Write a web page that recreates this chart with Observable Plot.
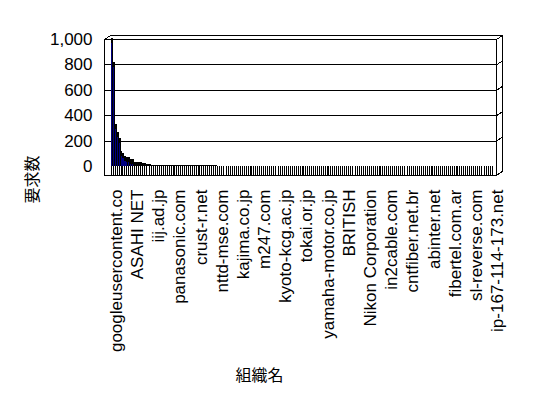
<!DOCTYPE html>
<html><head><meta charset="utf-8">
<script src="https://cdn.jsdelivr.net/npm/d3@7"></script>
<script src="https://cdn.jsdelivr.net/npm/@observablehq/plot@0.6"></script>
<style>body{margin:0;background:#fff}</style>
</head><body><div id="chart"></div>
<script>
// Labelled organisations (every 11th bar carries a label)
const labelledOrgs = [
  "googleusercontent.co", "ASAHI NET", "iij.ad.jp", "panasonic.com", "crust-r.net",
  "nttd-mse.com", "kajima.co.jp", "m247.com", "kyoto-kcg.ac.jp", "tokai.or.jp",
  "yamaha-motor.co.jp", "BRITISH", "Nikon Corporation", "in2cable.com", "cntfiber.net.br",
  "abinter.net", "fibertel.com.ar", "sl-reverse.com", "ip-167-114-173.net"
];
const labelStep = 11;

// Request counts per organisation (199 bars)
const counts = [
  1005, 815, 330, 268, 222, 120, 100, 75, 74, 72, 55, 53, 32, 31, 30, 29, 21, 20, 13, 12, 12,
  9, 9, 9, 9, 9, 8, 8, 8, 8, 8, 8, 8, 8, 8, 7, 7, 7, 7, 7, 7, 7, 7, 7, 7, 6, 6, 6, 6, 6, 6, 6, 6, 6, 6,
  2, 2, 2, 2, 2, 2, 2, 2, 2, 2, 2, 2, 2, 2, 2, 2, 2, 2, 2, 2, 2, 2, 2, 2, 2, 2, 2, 2, 2, 2,
  2, 2, 2, 2, 2, 2, 2, 2, 2, 2, 2, 2, 2, 2, 2, 2, 2, 2, 2, 2, 2, 2, 2, 2, 2, 2, 2, 2, 2, 2,
  1, 1, 1, 1, 1, 1, 1, 1, 1, 1, 1, 1, 1, 1, 1, 1, 1, 1, 1, 1, 1, 1, 1, 1, 1, 1, 1, 1,
  1, 1, 1, 1, 1, 1, 1, 1, 1, 1, 1, 1, 1, 1, 1, 1, 1, 1, 1, 1, 1, 1, 1, 1, 1, 1, 1, 1,
  1, 1, 1, 1, 1, 1, 1, 1, 1, 1, 1, 1, 1, 1, 1, 1, 1, 1, 1, 1, 1, 1, 1, 1, 1, 1, 1, 1
];
const yTicks = [0, 200, 400, 600, 800, 1000];
const xTitle = "組織名";
const yTitle = "要求数";

const rows = counts.map((v, i) => ({i, v}));
const xLo = -3.6, xHi = 200, yFloor = -70, yMax = 1000, depthX = 3.1, depthY = 31.5;
const frameSegs = [
  {x1: xLo, y1: yMax, x2: xLo + depthX, y2: yMax + depthY},
  {x1: xLo + depthX, y1: yMax + depthY, x2: xHi + depthX, y2: yMax + depthY},
  {x1: xHi + depthX, y1: yMax + depthY, x2: xHi + depthX, y2: yFloor + depthY},
  ...yTicks.filter(t => t > 0).map(t => ({x1: xHi, y1: t, x2: xHi + depthX, y2: t + depthY})),
  {x1: xHi, y1: yFloor, x2: xHi + depthX, y2: yFloor + depthY}
];
const tickPos = labelledOrgs.map((_, k) => k * labelStep + 0.5);
const crisp = {shapeRendering: "crispEdges"};

const chart = Plot.plot({
  width: 548, height: 398,
  marginLeft: 104, marginRight: 52, marginTop: 39, marginBottom: 223,
  style: {fontFamily: "'Liberation Sans','Noto Sans CJK JP',sans-serif", fontSize: "17px", background: "#fff", color: "#000"},
  x: {type: "linear", domain: [xLo, xHi]},
  y: {domain: [0, yMax], range: [166, 39]},
  marks: [
    Plot.ruleY(yTicks.filter(t => t > 0), {x1: xLo, x2: xHi, stroke: "#000", ...crisp}),
    Plot.link(frameSegs, {x1: "x1", y1: "y1", x2: "x2", y2: "y2", stroke: "#000", ...crisp}),
    Plot.frame({stroke: "#000", ...crisp}),
    Plot.rect(rows, {x1: "i", x2: d => d.i + 0.5, y1: yFloor, y2: 0, fill: "#000", ...crisp}),
    Plot.rect(rows, {x1: "i", x2: d => d.i + 1, y1: 0, y2: "v", fill: "#000", ...crisp}),
    Plot.rect(rows, {filter: d => d.v > 40, x1: "i", x2: d => d.i + 0.6, y1: 0, y2: "v", insetTop: 5, fill: "#000080", ...crisp}),
    Plot.axisY({ticks: yTicks, tickFormat: d3.format(","), tickSize: 0, tickPadding: 12, label: null}),
    Plot.axisX({ticks: tickPos, tickFormat: d => labelledOrgs[Math.round((d - 0.5) / labelStep)],
      tickRotate: -90, textAnchor: "end", tickSize: 0, tickPadding: 14, dx: 4, label: null}),
    Plot.text([yTitle], {frameAnchor: "left", dx: -72, dy: 96, rotate: -90, fontSize: 16, lineAnchor: "middle"}),
    Plot.text([xTitle], {frameAnchor: "bottom", dx: -41, dy: 200, fontSize: 16, lineAnchor: "middle"})
  ]
});
document.getElementById("chart").append(chart);
</script>
</body></html>
